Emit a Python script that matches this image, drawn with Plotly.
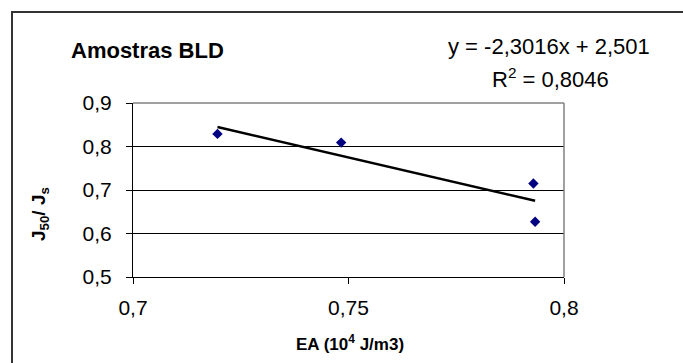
import plotly.graph_objects as go

# ---- data ----
ea_values = [0.7196, 0.7483, 0.7929, 0.7933]        # EA (10^4 J/m3)
ratio_values = [0.829, 0.809, 0.715, 0.627]         # J50 / Js
trend_slope = -2.3016
trend_intercept = 2.501
r_squared = "0,8046"

x_tick_vals = [0.7, 0.75, 0.8]
x_tick_text = ["0,7", "0,75", "0,8"]
y_tick_vals = [0.5, 0.6, 0.7, 0.8, 0.9]
y_tick_text = ["0,5", "0,6", "0,7", "0,8", "0,9"]

chart_title = "Amostras BLD"
equation_text = "y = -2,3016x + 2,501"
x_title = "EA (10<sup>4</sup> J/m3)"
y_title = "J<sub>50</sub>/ J<sub>s</sub>"

# ---- layout geometry (pixels) ----
W, H = 683, 363
L, R, T, B = 133, 564, 103, 277


def px(xp):
    return (xp - L) / (R - L)


def py(yp):
    return (B - yp) / (B - T)


FONT = "Liberation Sans, Arial, sans-serif"

trend_x = [min(ea_values), max(ea_values)]
trend_y = [trend_slope * v + trend_intercept for v in trend_x]

fig = go.Figure()
fig.add_trace(go.Scatter(
    x=trend_x, y=trend_y, mode="lines",
    line=dict(color="black", width=2.5),
    hoverinfo="skip", showlegend=False,
))
fig.add_trace(go.Scatter(
    x=ea_values, y=ratio_values, mode="markers",
    marker=dict(symbol="diamond", size=8, color="#000080", line=dict(width=0)),
    showlegend=False,
))

fig.update_layout(
    width=W, height=H, autosize=False,
    margin=dict(l=L, r=W - R, t=T, b=H - B, pad=0),
    paper_bgcolor="white", plot_bgcolor="white",
    font=dict(family=FONT, color="black"),
    showlegend=False,
    xaxis=dict(
        range=[0.7, 0.8], tickvals=x_tick_vals, ticktext=x_tick_text,
        showgrid=False, zeroline=False,
        showline=True, linecolor="black", linewidth=1,
        ticks="outside", ticklen=6, tickcolor="black", tickwidth=1,
        tickfont=dict(size=21, family=FONT, color="black"),
        ticklabelstandoff=6,
    ),
    yaxis=dict(
        range=[0.5, 0.9], tickvals=y_tick_vals, ticktext=y_tick_text,
        showgrid=True, gridcolor="black", gridwidth=1, zeroline=False,
        showline=True, linecolor="black", linewidth=1,
        ticks="outside", ticklen=6, tickcolor="black", tickwidth=1,
        tickfont=dict(size=21, family=FONT, color="black"),
        ticklabelstandoff=10,
    ),
    shapes=[
        # grey top and right edges of the plot area
        dict(type="line", xref="x domain", yref="y domain", x0=0, x1=1, y0=1, y1=1,
             line=dict(color="#808080", width=1.5)),
        dict(type="line", xref="x domain", yref="y domain", x0=1, x1=1, y0=0, y1=1,
             line=dict(color="#808080", width=1.5)),
        # outer chart-area border
        dict(type="rect", xref="paper", yref="paper",
             x0=px(12), x1=px(700), y0=py(380), y1=py(12),
             line=dict(color="#333333", width=2), fillcolor="rgba(0,0,0,0)",
             layer="above"),
    ],
    annotations=[
        dict(text="<b>" + chart_title + "</b>", xref="paper", yref="paper",
             x=px(147), y=py(50), xanchor="center", yanchor="middle",
             showarrow=False, font=dict(size=22, family=FONT, color="black")),
        dict(text=equation_text, xref="paper", yref="paper",
             x=px(549), y=py(47), xanchor="center", yanchor="middle",
             showarrow=False, font=dict(size=22, family=FONT, color="black")),
        dict(text="R<sup>2</sup> = " + r_squared, xref="paper", yref="paper",
             x=px(550), y=py(78), xanchor="center", yanchor="middle",
             showarrow=False, font=dict(size=22, family=FONT, color="black")),
        dict(text="<b>" + x_title + "</b>", xref="paper", yref="paper",
             x=px(350), y=py(343), xanchor="center", yanchor="middle",
             showarrow=False, font=dict(size=17, family=FONT, color="black")),
        dict(text="<b>" + y_title + "</b>", xref="paper", yref="paper",
             x=px(40), y=py(214), xanchor="center", yanchor="middle",
             textangle=-90,
             showarrow=False, font=dict(size=19, family=FONT, color="black")),
    ],
)

fig.write_html(
    "out.html",
    config={"displayModeBar": False},
    post_script="document.body.style.margin='0';document.body.style.padding='0';",
)
